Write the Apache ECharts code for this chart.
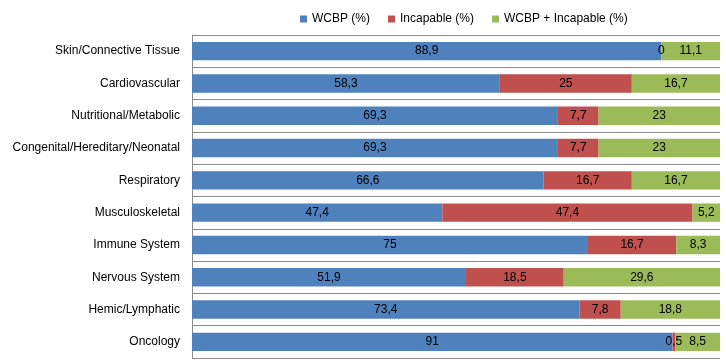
<!DOCTYPE html>
<html>
<head>
<meta charset="utf-8">
<script src="https://cdn.jsdelivr.net/npm/echarts@6/dist/echarts.min.js"></script>
<style>
  html, body { margin: 0; padding: 0; background: #fff; }
  #chart { width: 726px; height: 361px; }
</style>
</head>
<body>
<div id="chart"></div>
<script>
// categories, top to bottom
const categories = [
    'Skin/Connective Tissue',
    'Cardiovascular',
    'Nutritional/Metabolic',
    'Congenital/Hereditary/Neonatal',
    'Respiratory',
    'Musculoskeletal',
    'Immune System',
    'Nervous System',
    'Hemic/Lymphatic',
    'Oncology'
];
const seriesNames = ['WCBP (%)', 'Incapable (%)', 'WCBP + Incapable (%)'];
const wcbp      = [88.9, 58.3, 69.3, 69.3, 66.6, 47.4, 75, 51.9, 73.4, 91];
const incapable = [0, 25, 7.7, 7.7, 16.7, 47.4, 16.7, 18.5, 7.8, 0.5];
const both      = [11.1, 16.7, 23, 23, 16.7, 5.2, 8.3, 29.6, 18.8, 8.5];

const colors = ['#4F81BD', '#C0504D', '#9BBB59'];
const font = '"Liberation Sans", Arial, sans-serif';

const mkSeries = (name, data, i) => ({
    name: name,
    type: 'bar',
    stack: 'total',
    barWidth: '57%',
    itemStyle: { color: colors[i] },
    label: {
        show: true,
        position: 'inside',
        color: '#000',
        fontFamily: font,
        fontSize: 12,
        formatter: p => String(p.value).replace('.', ',')
    },
    data: data
});

const chart = echarts.init(document.getElementById('chart'));
chart.setOption({
    animation: false,
    textStyle: { fontFamily: font },
    legend: {
        top: 8,
        left: 295,
        itemWidth: 7,
        itemHeight: 7,
        itemGap: 18,
        icon: 'rect',
        textStyle: { fontSize: 12, color: '#000', fontFamily: font },
        data: seriesNames
    },
    grid: { left: 192, right: 6, top: 35, bottom: 3, containLabel: false },
    xAxis: {
        type: 'value',
        min: 0,
        max: 100,
        show: false
    },
    yAxis: {
        type: 'category',
        inverse: true,
        data: categories,
        axisLine: { show: true, lineStyle: { color: '#8c8c8c' } },
        axisTick: { show: false },
        splitLine: { show: true, lineStyle: { color: '#8c8c8c' } },
        axisLabel: { color: '#000', fontSize: 12, margin: 12, fontFamily: font }
    },
    series: [
        mkSeries(seriesNames[0], wcbp, 0),
        mkSeries(seriesNames[1], incapable, 1),
        mkSeries(seriesNames[2], both, 2)
    ]
});
</script>
</body>
</html>
